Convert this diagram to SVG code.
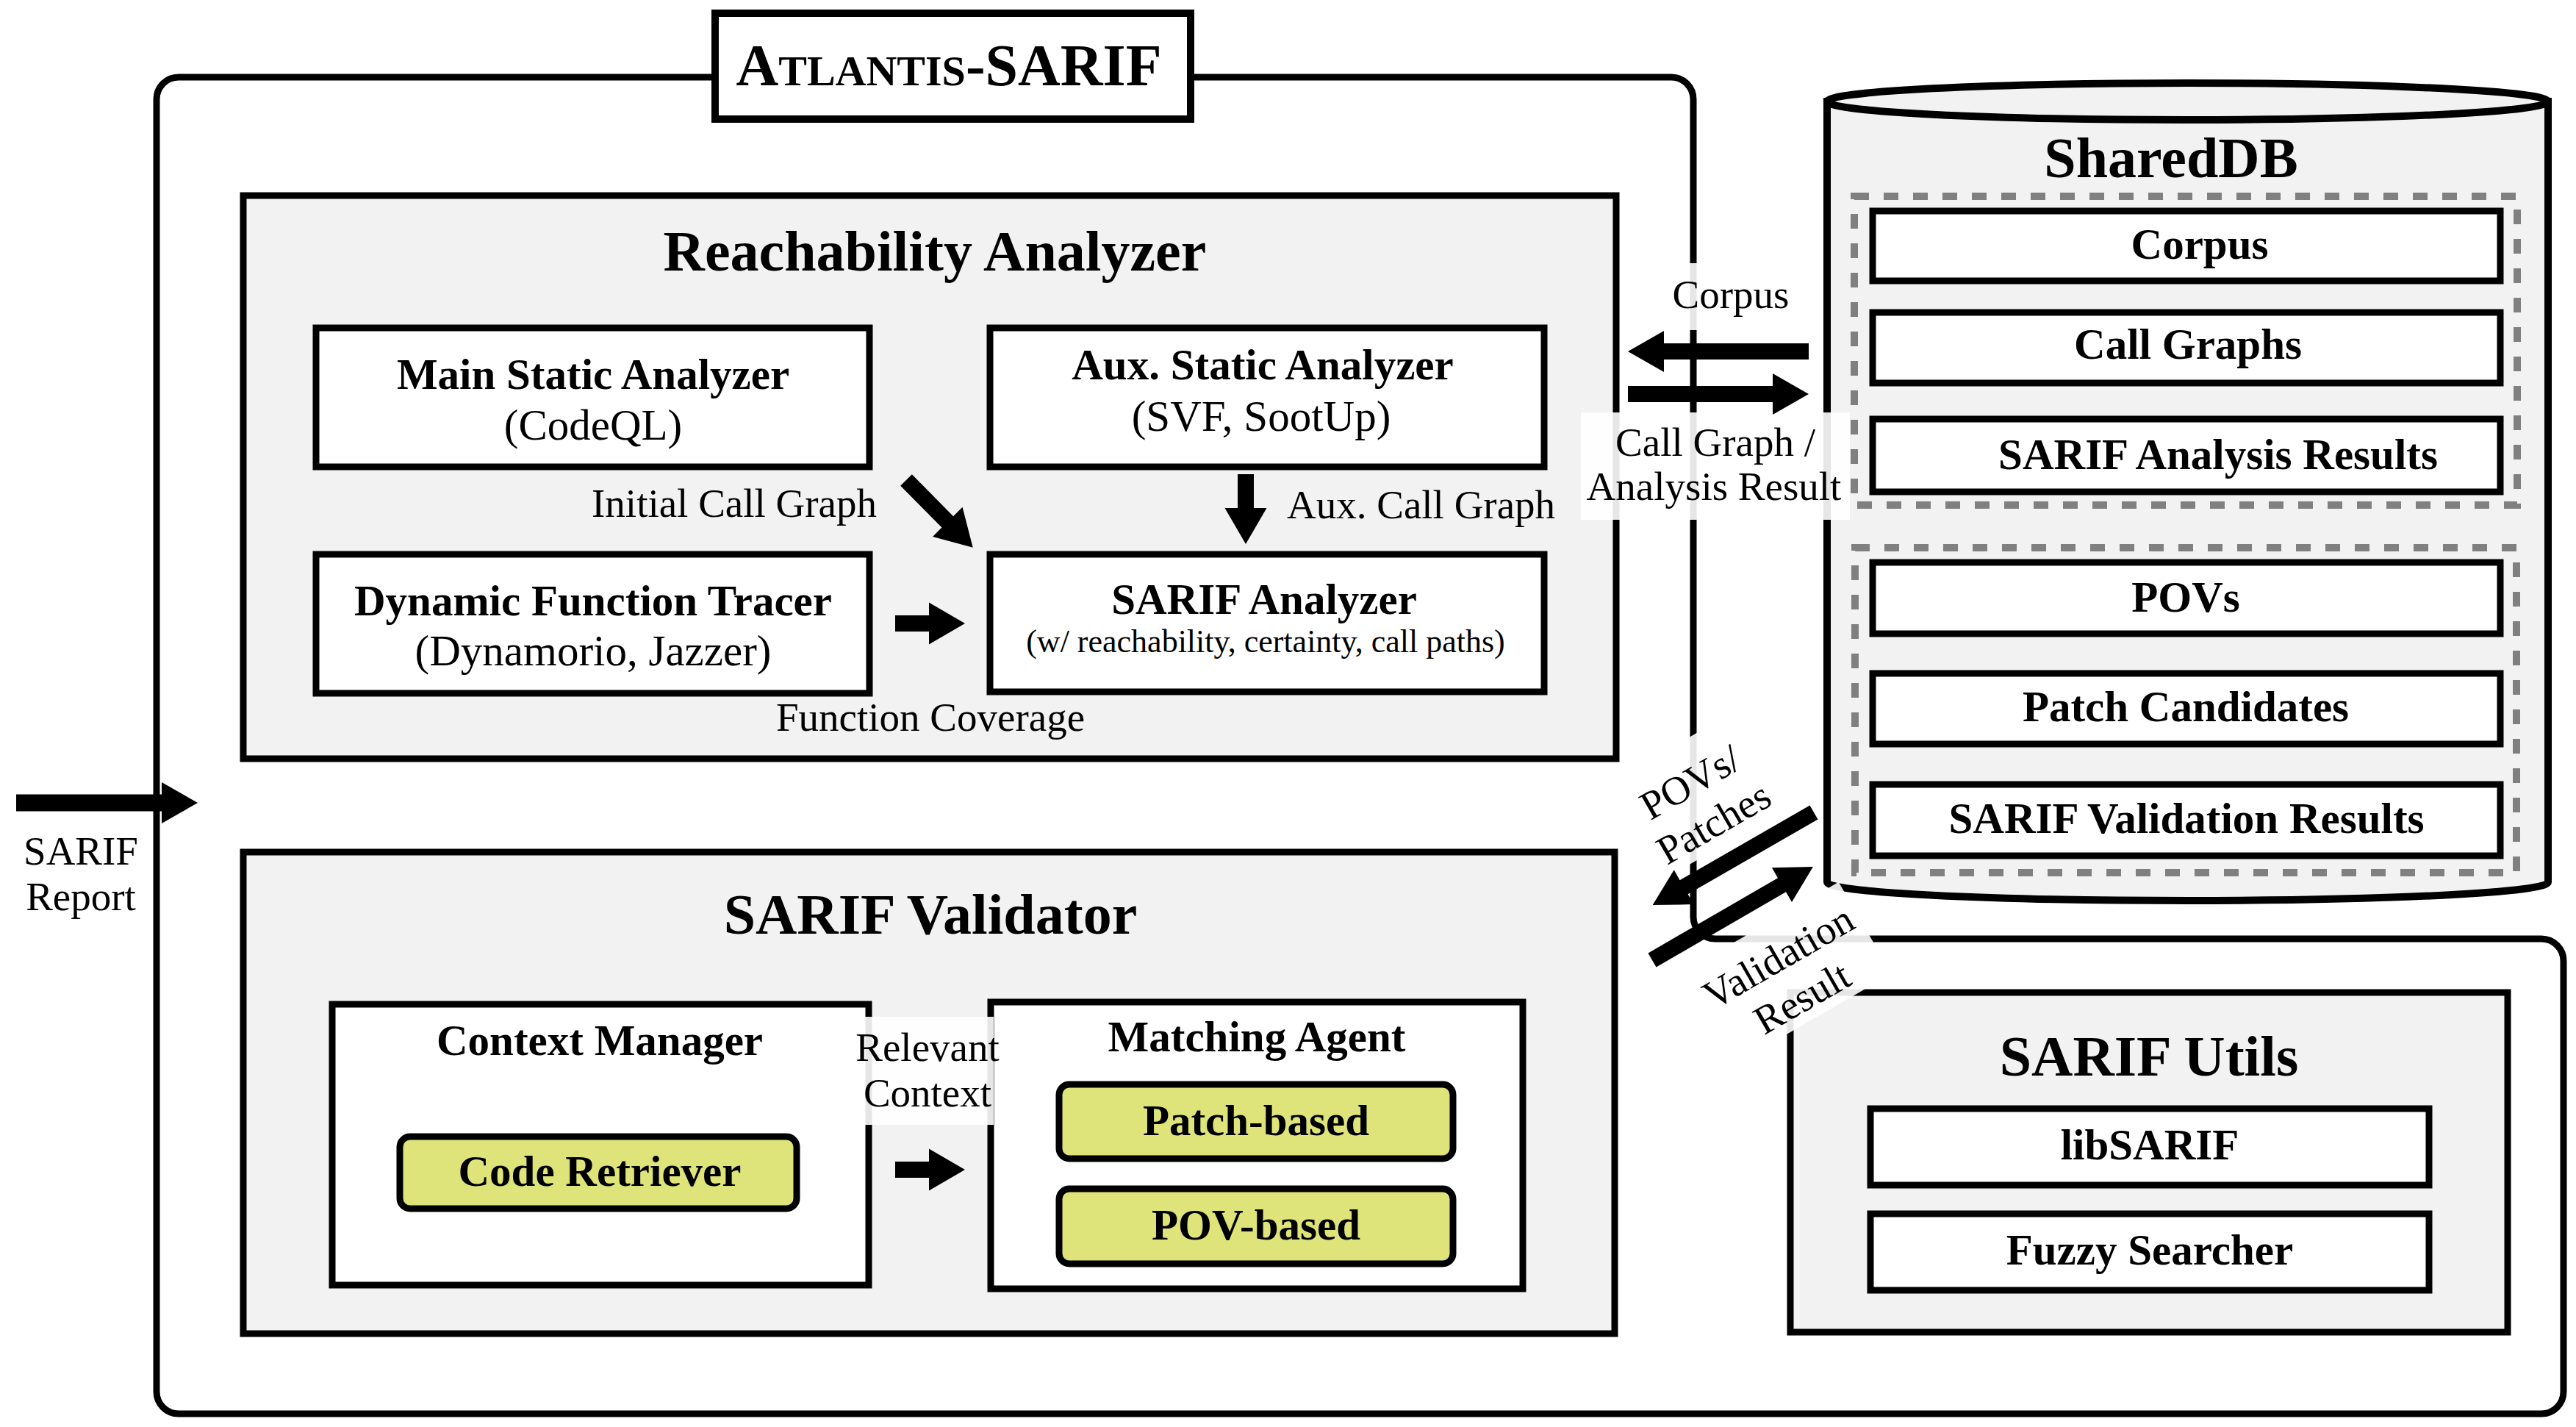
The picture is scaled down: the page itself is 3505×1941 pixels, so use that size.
<svg xmlns="http://www.w3.org/2000/svg" width="3505" height="1941" viewBox="0 0 3505 1941">
<style>
text{font-family:"Liberation Serif","Times New Roman",serif;fill:#000}
.t{font-size:78px;font-weight:bold;text-anchor:middle}
.b{font-size:59px;font-weight:bold;text-anchor:middle}
.r{font-size:59px;text-anchor:middle}
.s{font-size:44px;text-anchor:middle}
.l{font-size:55px}
.m{text-anchor:middle}
.e{text-anchor:end}
.frame{fill:none;stroke:#000;stroke-width:9}
.grp{fill:#f2f2f2;stroke:#000;stroke-width:9}
.box{fill:#fff;stroke:#000;stroke-width:9}
.ybox{fill:#dee47a;stroke:#000;stroke-width:9}
.dash{fill:none;stroke:#808080;stroke-width:10;stroke-dasharray:20 20}
.cyl{fill:#f2f2f2;stroke:#000;stroke-width:10}
.arr{fill:#000}
.bg{fill:#fff;opacity:0.9}
</style>
<defs>
<path id="shortArrow" d="M0,-11 H46 V-28.5 L95,0 L46,28.5 V11 H0 Z"/>
</defs>
<rect x="0" y="0" width="3505" height="1941" fill="#fff"/>

<g id="atlantis-frame">
<path class="frame" d="M243,105 H2274 A30,30 0 0 1 2304,135 V1247 A30,30 0 0 0 2334,1277 H3458 A30,30 0 0 1 3488,1307 V1893 A30,30 0 0 1 3458,1923 H243 A30,30 0 0 1 213,1893 V135 A30,30 0 0 1 243,105 Z"/>
<rect x="973" y="18" width="647" height="144" fill="#fff" stroke="#000" stroke-width="10"/>
<text x="1291" y="116" font-weight="bold" text-anchor="middle"><tspan font-size="80">A</tspan><tspan font-size="58">TLANTIS</tspan><tspan font-size="80">-SARIF</tspan></text>
</g>

<g id="reachability-analyzer">
<rect class="grp" x="331" y="266" width="1868" height="766"/>
<text class="t" x="1272" y="368">Reachability Analyzer</text>
</g>
<g id="main-static-analyzer">
<rect class="box" x="430" y="446" width="753" height="189"/>
<text class="b" x="807" y="529">Main Static Analyzer</text>
<text class="r" x="807" y="598">(CodeQL)</text>
</g>
<g id="aux-static-analyzer">
<rect class="box" x="1347" y="446" width="754" height="189"/>
<text class="b" x="1718" y="516">Aux. Static Analyzer</text>
<text class="r" x="1716" y="586">(SVF, SootUp)</text>
</g>
<g id="dynamic-function-tracer">
<rect class="box" x="430" y="754" width="753" height="189"/>
<text class="b" x="807" y="837">Dynamic Function Tracer</text>
<text class="r" x="807" y="905">(Dynamorio, Jazzer)</text>
</g>
<g id="sarif-analyzer">
<rect class="box" x="1347" y="754" width="754" height="187"/>
<text class="b" x="1720" y="835">SARIF Analyzer</text>
<text class="s" x="1722" y="887">(w/ reachability, certainty, call paths)</text>
</g>

<g id="sarif-validator">
<rect class="grp" x="331" y="1159" width="1866" height="655"/>
<text class="t" x="1266" y="1270">SARIF Validator</text>
</g>
<g id="context-manager">
<rect class="box" x="452" y="1366" width="730" height="382"/>
<text class="b" x="816" y="1435">Context Manager</text>
</g>
<g id="code-retriever">
<rect class="ybox" x="544" y="1546" width="540" height="98" rx="14"/>
<text class="b" x="816" y="1613">Code Retriever</text>
</g>
<g id="matching-agent">
<rect class="box" x="1348" y="1363" width="724" height="390"/>
<text class="b" x="1710" y="1430">Matching Agent</text>
</g>
<g id="patch-based">
<rect class="ybox" x="1441" y="1475" width="536" height="101" rx="14"/>
<text class="b" x="1709" y="1544">Patch-based</text>
</g>
<g id="pov-based">
<rect class="ybox" x="1441" y="1617" width="536" height="102" rx="14"/>
<text class="b" x="1709" y="1686">POV-based</text>
</g>

<g id="shareddb">
<path class="cyl" d="M2486,138 V1200 A490.5,25 0 0 0 3467,1200 V138 Z"/>
<ellipse class="cyl" cx="2976.5" cy="138" rx="490.5" ry="25"/>
<text class="t" x="2954" y="241">SharedDB</text>
<rect class="dash" x="2523" y="267" width="902" height="420"/>
<rect class="dash" x="2524" y="745" width="900" height="442"/>
</g>
<g id="db-corpus">
<rect class="box" x="2548" y="287" width="854" height="95"/>
<text class="b" x="2993" y="352">Corpus</text>
</g>
<g id="db-call-graphs">
<rect class="box" x="2548" y="425" width="854" height="96"/>
<text class="b" x="2977" y="488">Call Graphs</text>
</g>
<g id="db-sarif-analysis-results">
<rect class="box" x="2548" y="570" width="854" height="99"/>
<text class="b" x="3018" y="638">SARIF Analysis Results</text>
</g>
<g id="db-povs">
<rect class="box" x="2548" y="765" width="854" height="97"/>
<text class="b" x="2974" y="832">POVs</text>
</g>
<g id="db-patch-candidates">
<rect class="box" x="2548" y="916" width="854" height="96"/>
<text class="b" x="2974" y="981">Patch Candidates</text>
</g>
<g id="db-sarif-validation-results">
<rect class="box" x="2548" y="1067" width="854" height="97"/>
<text class="b" x="2975" y="1133">SARIF Validation Results</text>
</g>

<g id="sarif-utils">
<rect class="grp" x="2436" y="1350" width="976" height="462"/>
<text class="t" x="2924" y="1463">SARIF Utils</text>
</g>
<g id="libsarif">
<rect class="box" x="2545" y="1508" width="760" height="104"/>
<text class="b" x="2925" y="1577">libSARIF</text>
</g>
<g id="fuzzy-searcher">
<rect class="box" x="2545" y="1651" width="760" height="104"/>
<text class="b" x="2925" y="1720">Fuzzy Searcher</text>
</g>

<g id="connectors">
<rect class="bg" x="2262" y="358" width="190" height="91"/>
<rect class="bg" x="2151" y="561" width="366" height="146"/>
<rect class="bg" x="1175" y="1383" width="177" height="147"/>
<rect class="bg" x="-100" y="-86" width="200" height="150" transform="translate(2316,1092) rotate(-30)"/>
<rect class="bg" x="-122" y="-80" width="244" height="144" transform="translate(2436,1330) rotate(-30)"/>

<path class="arr" d="M0,-11 H80 V-28.5 L129,0 L80,28.5 V11 H0 Z" transform="translate(1233,653) rotate(45.3)"/>
<use href="#shortArrow" class="arr" transform="translate(1695,645) rotate(90)"/>
<use href="#shortArrow" class="arr" transform="translate(1218,848)"/>
<use href="#shortArrow" class="arr" transform="translate(1218,1591)"/>
<path class="arr" d="M0,-11 H197 V-28 L246,0 L197,28 V11 H0 Z" transform="translate(2461,478) rotate(180)"/>
<path class="arr" d="M0,-11 H197 V-28 L246,0 L197,28 V11 H0 Z" transform="translate(2215,536)"/>
<path class="arr" d="M0,-11.5 H198 V-28 L247,0 L198,28 V11.5 H0 Z" transform="translate(22,1092)"/>
<path class="arr" d="M0,-11 H204 V-27 L253,0 L204,27 V11 H0 Z" transform="translate(2468,1105) rotate(150.1)"/>
<path class="arr" d="M0,-11 H204 V-27 L253,0 L204,27 V11 H0 Z" transform="translate(2248,1306) rotate(-30.1)"/>

<text class="l e" x="1193" y="703">Initial Call Graph</text>
<text class="l" x="1751" y="705">Aux. Call Graph</text>
<text class="l" x="1056" y="994">Function Coverage</text>
<text class="l m" x="2355" y="419">Corpus</text>
<text class="l m" x="2334" y="620">Call Graph /</text>
<text class="l m" x="2332" y="680">Analysis Result</text>
<text class="l m" x="110" y="1176">SARIF</text>
<text class="l m" x="110" y="1238">Report</text>
<text class="l m" x="1262" y="1443">Relevant</text>
<text class="l m" x="1262" y="1505">Context</text>
<g transform="translate(2316,1092) rotate(-30)">
<text class="l m" x="0" y="-14">POVs/</text>
<text class="l m" x="0" y="50">Patches</text>
</g>
<g transform="translate(2436,1330) rotate(-30)">
<text class="l m" x="0" y="-14">Validation</text>
<text class="l m" x="0" y="50">Result</text>
</g>
</g>
</svg>
